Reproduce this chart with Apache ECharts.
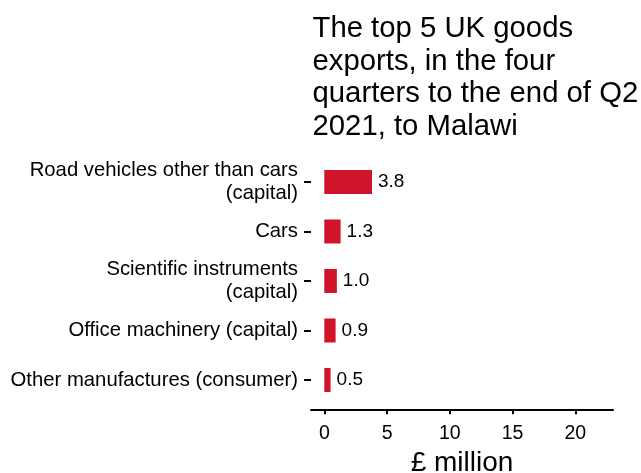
<!DOCTYPE html>
<html>
<head>
<meta charset="utf-8">
<script src="https://cdn.jsdelivr.net/npm/echarts@6/dist/echarts.min.js"></script>
<style>
html,body{margin:0;padding:0;background:#fff;}
#chart{width:641px;height:473px;}
</style>
</head>
<body>
<div id="chart"></div>
<script>
const titleText = "The top 5 UK goods\nexports, in the four\nquarters to the end of Q2\n2021, to Malawi";
const categories = [
  "Road vehicles other than cars\n(capital)",
  "Cars",
  "Scientific instruments\n(capital)",
  "Office machinery (capital)",
  "Other manufactures (consumer)"
];
const values = [3.8, 1.3, 1.0, 0.9, 0.5];
const xTicks = [0, 5, 10, 15, 20];
const xName = "£ million";

const font = "Liberation Sans, Arial, sans-serif";
const chart = echarts.init(document.getElementById('chart'), null, {renderer: 'canvas'});
chart.setOption({
  animation: false,
  backgroundColor: '#ffffff',
  title: {
    text: titleText,
    left: 312.5,
    top: 13,
    padding: 0,
    textStyle: {fontFamily: font, fontSize: 29.3, fontWeight: 'normal', color: '#000', lineHeight: 32.5}
  },
  grid: {left: 311, right: 28, top: 157.25, height: 247.5, containLabel: false, outerBoundsMode: 'none'},
  xAxis: {
    type: 'value',
    min: -1.06,
    max: 23,
    offset: 4.5,
    splitLine: {show: false},
    axisLine: {show: true, onZero: false, lineStyle: {color: '#000', width: 2}},
    axisTick: {show: true, length: 5, lineStyle: {color: '#000', width: 2}, customValues: xTicks},
    axisLabel: {customValues: xTicks, fontFamily: font, fontSize: 19.5, color: '#000', margin: 14},
    name: xName,
    nameLocation: 'middle',
    nameGap: 40,
    nameTextStyle: {fontFamily: font, fontSize: 28, color: '#000'}
  },
  yAxis: {
    type: 'category',
    data: categories,
    inverse: true,
    axisLine: {show: false, onZero: false},
    axisTick: {show: true, alignWithLabel: true, length: 7, lineStyle: {color: '#000', width: 2}},
    axisLabel: {fontFamily: font, fontSize: 20.3, color: '#000', margin: 13, lineHeight: 23, align: 'right', padding: [3, 0, 0, 0]},
    splitLine: {show: false}
  },
  series: [{
    type: 'bar',
    data: values,
    barWidth: 24,
    itemStyle: {color: '#cf142b'},
    label: {
      show: true,
      position: 'right',
      distance: 6,
      fontFamily: font,
      fontSize: 19,
      color: '#000',
      formatter: p => p.value.toFixed(1)
    }
  }]
});
</script>
</body>
</html>
